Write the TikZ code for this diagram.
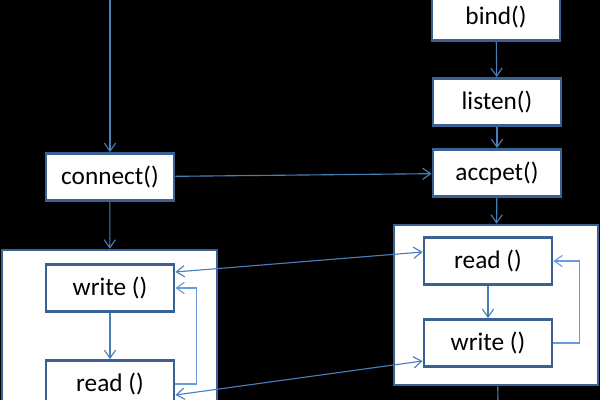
\documentclass[tikz,border=0pt]{standalone}
\usepackage{fontspec}
\setmainfont{Carlito}
\usepackage{xcolor}
\usepackage{tikz}
\usetikzlibrary{arrows.meta, positioning}

\definecolor{boxline}{HTML}{3A6194}
\definecolor{arrowline}{HTML}{4A7EBB}
\definecolor{loopline}{HTML}{6B9BD6}

\begin{document}
\begin{tikzpicture}[x=0.025cm,y=-0.025cm,>={Straight Barb[length=2mm,width=2.8mm]},
        call/.style={draw=boxline,fill=white,line width=2pt,minimum width=3.2cm,
            minimum height=1.175cm,inner sep=0pt,font=\fontsize{18}{22}\selectfont},
        frame/.style={draw=boxline,fill=white,line width=1.8pt,inner sep=0pt},
        flow/.style={draw=arrowline,line width=0.8pt},
        loopflow/.style={draw=loopline,line width=0.8pt}]

      \useasboundingbox (0,0) rectangle (600,400);
      \clip (0,0) rectangle (600,400);
      \fill[black] (0,0) rectangle (600,400);

      % client side
      \coordinate (start) at (110,0);
      \node[call]  (connect) at (110,177) {connect()};
      \node[frame,minimum width=5.375cm,minimum height=5.5cm] (lcont) at (109.5,360) {};
      \node[call]  (lwrite) at (110,288) {write ()};
      \node[call]  (lread)  at (110,384) {read ()};

      % server side
      \node[call]  (bind)   at (496,17)  {bind()};
      \node[call]  (listen) at (497,102) {listen()};
      \node[call]  (accpet) at (497,173) {accpet()};
      \node[frame,minimum width=5.1cm,minimum height=4cm] (rcont) at (496,305) {};
      \node[call]  (rread)  at (488,261) {read ()};
      \node[call]  (rwrite) at (488,343) {write ()};
      \coordinate (finish) at (498,400);

      \path[->] (start)  edge[flow] (connect)
                (connect) edge[flow] (lcont)
                (connect) edge[flow] (accpet)
                (bind)   edge[flow] (listen)
                (listen) edge[flow] (accpet)
                (accpet) edge[flow] (rcont)
                (lwrite) edge[flow] (lread)
                (rread)  edge[flow] (rwrite);
      \draw[flow] (rcont) -- (finish);

      % exchange between the two sides
      \draw[flow,<->] ([yshift=0.4cm]lwrite.east) -- ([yshift=0.225cm]rread.west);
      \draw[flow,<->] ([yshift=-0.275cm]lread.east) -- ([yshift=-0.45cm]rwrite.west);

      % loops
      \draw[loopflow,->] (lread.east) -- ++(21,0) |- (lwrite.east);
      \draw[loopflow,->] (rwrite.east) -- ++(26,0) |- (rread.east);
\end{tikzpicture}
\end{document}
